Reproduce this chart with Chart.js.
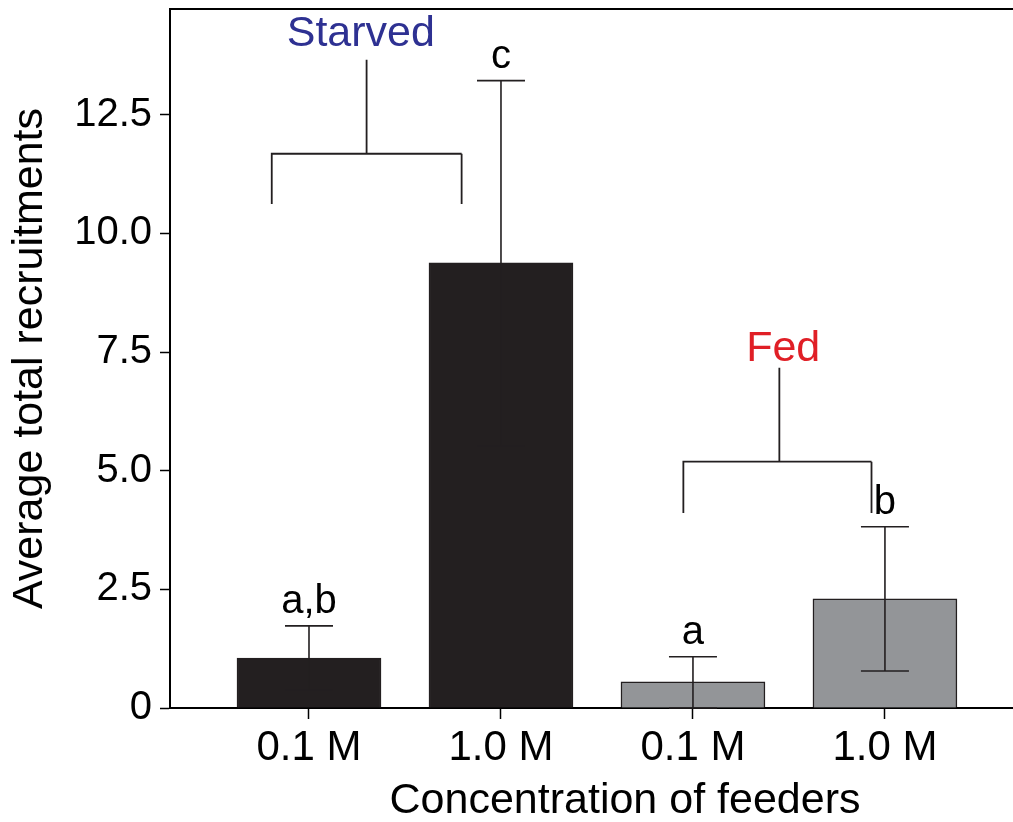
<!DOCTYPE html>
<html>
<head>
<meta charset="utf-8">
<script src="https://cdn.jsdelivr.net/npm/chart.js@4.4.1/dist/chart.umd.min.js"></script>
<style>
    body { margin: 0; background: #fff; }
    canvas { display: block; }
</style>
</head>
<body>
<canvas id="chart" width="1013" height="822"></canvas>
<script>
const categories = ['0.1 M', '1.0 M', '0.1 M', '1.0 M']
const xPositions = [1, 2, 3, 4]
const means = [1.05, 9.38, 0.55, 2.30]
const errLow = [0.38, 5.52, 0.0, 0.78]
const errHigh = [1.73, 13.22, 1.08, 3.82]
const letters = ['a,b', 'c', 'a', 'b']
const barColors = ['#231f20', '#231f20', '#939598', '#939598']

const yTicks = [0, 2.5, 5, 7.5, 10, 12.5]
const yTickLabels = ['0', '2.5', '5.0', '7.5', '10.0', '12.5']

// treatment brackets (data units)
const groupNames = ['Starved', 'Fed']
const groupColors = ['#2e3192', '#e01f26']
const groupSpans = [[0.806, 1.795], [2.95, 3.93]]
const bracketY = [11.68, 5.19]
const legY = [10.62, 4.11]
const stemX = [1.30, 3.45]
const stemTop = [13.66, 7.17]
const labelX = [1.27, 3.47]
const labelY = [13.94, 7.32]

const FONT = '"Liberation Sans", Arial, sans-serif'

const annotations = {
    id: 'annotations',
    afterDatasetsDraw(chart) {
        const ctx = chart.ctx
        const xs = chart.scales.x
        const ys = chart.scales.y
        const area = chart.chartArea

        ctx.save()
        ctx.strokeStyle = '#231f20'
        ctx.lineWidth = 1.6

        // error bars
        for (let i = 0; i < xPositions.length; i++) {
            const cx = xs.getPixelForValue(xPositions[i])
            const half = xs.getPixelForValue(xPositions[i] + 0.125) - cx
            const yLo = ys.getPixelForValue(errLow[i])
            const yHi = ys.getPixelForValue(errHigh[i])
            ctx.beginPath()
            ctx.moveTo(cx, yLo); ctx.lineTo(cx, yHi)
            ctx.moveTo(cx - half, yHi); ctx.lineTo(cx + half, yHi)
            ctx.moveTo(cx - half, yLo); ctx.lineTo(cx + half, yLo)
            ctx.stroke()

            ctx.fillStyle = '#000'
            ctx.font = '40px ' + FONT
            ctx.textAlign = 'center'
            ctx.textBaseline = 'alphabetic'
            ctx.fillText(letters[i], cx, yHi - 13)
        }

        // brackets
        ctx.lineWidth = 1.8
        for (let g = 0; g < groupNames.length; g++) {
            const x1 = xs.getPixelForValue(groupSpans[g][0])
            const x2 = xs.getPixelForValue(groupSpans[g][1])
            const yb = ys.getPixelForValue(bracketY[g])
            const yl = ys.getPixelForValue(legY[g])
            const sx = xs.getPixelForValue(stemX[g])
            const st = ys.getPixelForValue(stemTop[g])
            ctx.beginPath()
            ctx.moveTo(x1, yl); ctx.lineTo(x1, yb); ctx.lineTo(x2, yb)
            ctx.moveTo(x2, yb); ctx.lineTo(x2, yl)
            ctx.moveTo(sx, yb); ctx.lineTo(sx, st)
            ctx.stroke()

            ctx.fillStyle = groupColors[g]
            ctx.font = '43px ' + FONT
            ctx.textAlign = 'center'
            ctx.textBaseline = 'alphabetic'
            ctx.fillText(groupNames[g], xs.getPixelForValue(labelX[g]), ys.getPixelForValue(labelY[g]))
        }

        // top frame line
        ctx.strokeStyle = '#000'
        ctx.lineWidth = 2
        ctx.beginPath()
        ctx.moveTo(area.left, area.top)
        ctx.lineTo(area.right, area.top)
        ctx.stroke()

        // x axis title
        ctx.fillStyle = '#000'
        ctx.font = '43px ' + FONT
        ctx.textAlign = 'center'
        ctx.fillText('Concentration of feeders', 625, 813)
        ctx.restore()
    }
}

const chartData = {
    datasets: [{
        data: xPositions.map((x, i) => ({ x: x, y: means[i] })),
        backgroundColor: barColors,
        borderColor: '#231f20',
        borderWidth: 1.5,
        barThickness: 144
    }]
}

const chartOptions = {
    type: 'bar',
    data: chartData,
    plugins: [annotations],
    options: {
        responsive: false,
        devicePixelRatio: 1,
        animation: false,
        layout: { padding: { top: 9, right: 0, left: 0, bottom: 0 } },
        plugins: {
            legend: { display: false },
            tooltip: { enabled: false }
        },
        scales: {
            x: {
                type: 'linear',
                min: 0.276,
                max: 4.667,
                offset: false,
                afterFit: (scale) => {
                    scale.height = 114
                    scale.paddingLeft = 0
                    scale.paddingRight = 0
                },
                afterBuildTicks: (scale) => { scale.ticks = xPositions.map(v => ({ value: v })) },
                ticks: {
                    color: '#000',
                    font: { family: FONT, size: 42 },
                    padding: 4,
                    maxRotation: 0,
                    autoSkip: false,
                    callback: (v) => categories[xPositions.indexOf(v)]
                },
                grid: {
                    offset: false,
                    drawOnChartArea: false,
                    drawTicks: true,
                    tickLength: 11,
                    tickColor: '#000',
                    tickWidth: 1.5
                },
                border: { display: true, color: '#000', width: 2 }
            },
            y: {
                min: 0,
                max: 14.73,
                afterFit: (scale) => {
                    scale.width = 170
                    scale.paddingTop = 0
                    scale.paddingBottom = 0
                },
                afterBuildTicks: (scale) => { scale.ticks = yTicks.map(v => ({ value: v })) },
                ticks: {
                    color: '#000',
                    font: { family: FONT, size: 40 },
                    padding: 8,
                    callback: (v) => yTickLabels[yTicks.indexOf(v)]
                },
                grid: {
                    drawOnChartArea: false,
                    drawTicks: true,
                    tickLength: 10,
                    tickColor: '#000',
                    tickWidth: 1.5
                },
                border: { display: true, color: '#000', width: 2 },
                title: {
                    display: true,
                    text: 'Average total recruitments',
                    color: '#000',
                    font: { family: FONT, size: 43 },
                    padding: { top: 4, bottom: 0 }
                }
            }
        }
    }
}

new Chart(document.getElementById('chart'), chartOptions)
</script>
</body>
</html>
